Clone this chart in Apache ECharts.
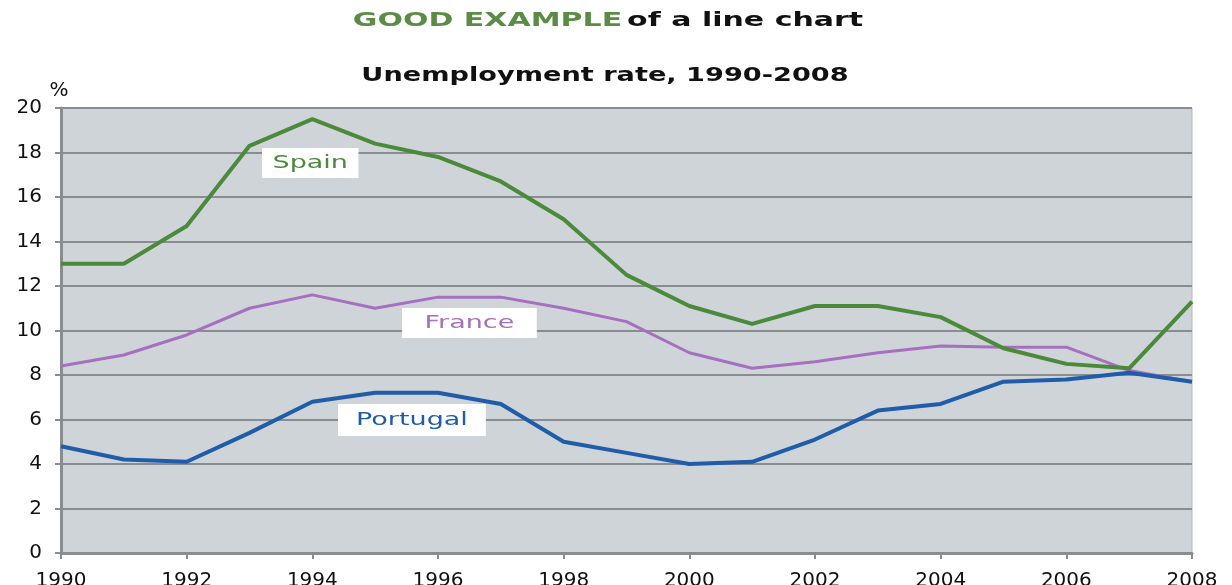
<!DOCTYPE html>
<html><head><meta charset="utf-8">
<script src="https://cdn.jsdelivr.net/npm/echarts@6/dist/echarts.min.js"></script>
<style>html,body{margin:0;padding:0;background:#fff}#c{width:1232px;height:585px}</style>
</head><body><div id="c"></div>
<script>
const years = [1990,1991,1992,1993,1994,1995,1996,1997,1998,1999,2000,2001,2002,2003,2004,2005,2006,2007,2008];
const spain    = [13.0,13.0,14.7,18.3,19.5,18.4,17.8,16.7,15.0,12.5,11.1,10.3,11.1,11.1,10.6,9.2,8.5,8.3,11.3];
const france   = [8.4,8.9,9.8,11.0,11.6,11.0,11.5,11.5,11.0,10.4,9.0,8.3,8.6,9.0,9.3,9.25,9.25,8.2,7.7];
const portugal = [4.8,4.2,4.1,5.4,6.8,7.2,7.2,6.7,5.0,4.5,4.0,4.1,5.1,6.4,6.7,7.7,7.8,8.1,7.7];
const seriesNames = ['Spain','France','Portugal'];
const titleMain = ['GOOD EXAMPLE','of a line chart'];
const subtitle = 'Unemployment rate, 1990-2008';

const FONT = 'DejaVu Sans, Verdana, sans-serif';
const chart = echarts.init(document.getElementById('c'));
const pair = arr => years.map((y,i)=>[y,arr[i]]);
const label = (txt, color, x, y, padH, padV) => ({
  type:'text', x:x, y:y, scaleX:1.5, z:10,
  style:{text:txt, fill:color, fontSize:18, fontFamily:FONT, verticalAlign:'top', align:'left',
         backgroundColor:'#fff', padding:[padV,padH,padV,padH]}
});
chart.setOption({
  animation:false,
  backgroundColor:'#fff',
  grid:{left:61,right:40,top:108,bottom:32,containLabel:false,outerBoundsMode:'none',
        show:true,backgroundColor:'#cfd4d8',borderColor:'#b5b9bc',borderWidth:1},
  xAxis:{type:'value',min:1990,max:2008,interval:2,
    axisLine:{show:true,onZero:false,lineStyle:{color:'#8a8d90',width:3}},
    axisTick:{show:true,length:6,lineStyle:{color:'#8a8d90',width:2}},
    axisLabel:{color:'#111',fontSize:20,fontFamily:FONT,margin:18,formatter:v=>String(v)},
    splitLine:{show:false}},
  yAxis:{type:'value',min:0,max:20,interval:2,name:'%',nameLocation:'end',nameGap:7,
    nameTextStyle:{color:'#111',fontSize:20,fontFamily:FONT,align:'center',verticalAlign:'bottom',padding:[0,4,0,0]},
    axisLine:{show:true,lineStyle:{color:'#8a8d90',width:3}},
    axisTick:{show:true,length:6,lineStyle:{color:'#8a8d90',width:2}},
    axisLabel:{color:'#111',fontSize:20,fontFamily:FONT,margin:19},
    splitLine:{show:true,lineStyle:{color:'#8a8d90',width:2}}},
  series:[
    {name:seriesNames[0],type:'line',data:pair(spain),symbol:'none',lineStyle:{color:'#4a8a3a',width:4},z:3},
    {name:seriesNames[1],type:'line',data:pair(france),symbol:'none',lineStyle:{color:'#a66fbf',width:3},z:2},
    {name:seriesNames[2],type:'line',data:pair(portugal),symbol:'none',lineStyle:{color:'#1f5caa',width:4},z:4}
  ],
  graphic:[
    {type:'text', x:608, y:11, scaleX:1.5, z:10,
     style:{text:'{g|'+titleMain[0]+'} {b|'+titleMain[1]+'}', align:'center', verticalAlign:'top',
       rich:{g:{fill:'#5b8c45',fontSize:20,fontWeight:'bold',fontFamily:FONT},
             b:{fill:'#111',fontSize:20,fontWeight:'bold',fontFamily:FONT}}}},
    {type:'text', x:605, y:67, scaleX:1.43, z:10,
     style:{text:subtitle, align:'center', verticalAlign:'top', fill:'#111',
       fontSize:19, fontWeight:'bold', fontFamily:FONT}},
    label(seriesNames[0],'#4a8a3a',262,148,7,6),
    label(seriesNames[1],'#a66fbf',402,308,15,6),
    label(seriesNames[2],'#1f5caa',338,404,12,7)
  ]
});
</script></body></html>
